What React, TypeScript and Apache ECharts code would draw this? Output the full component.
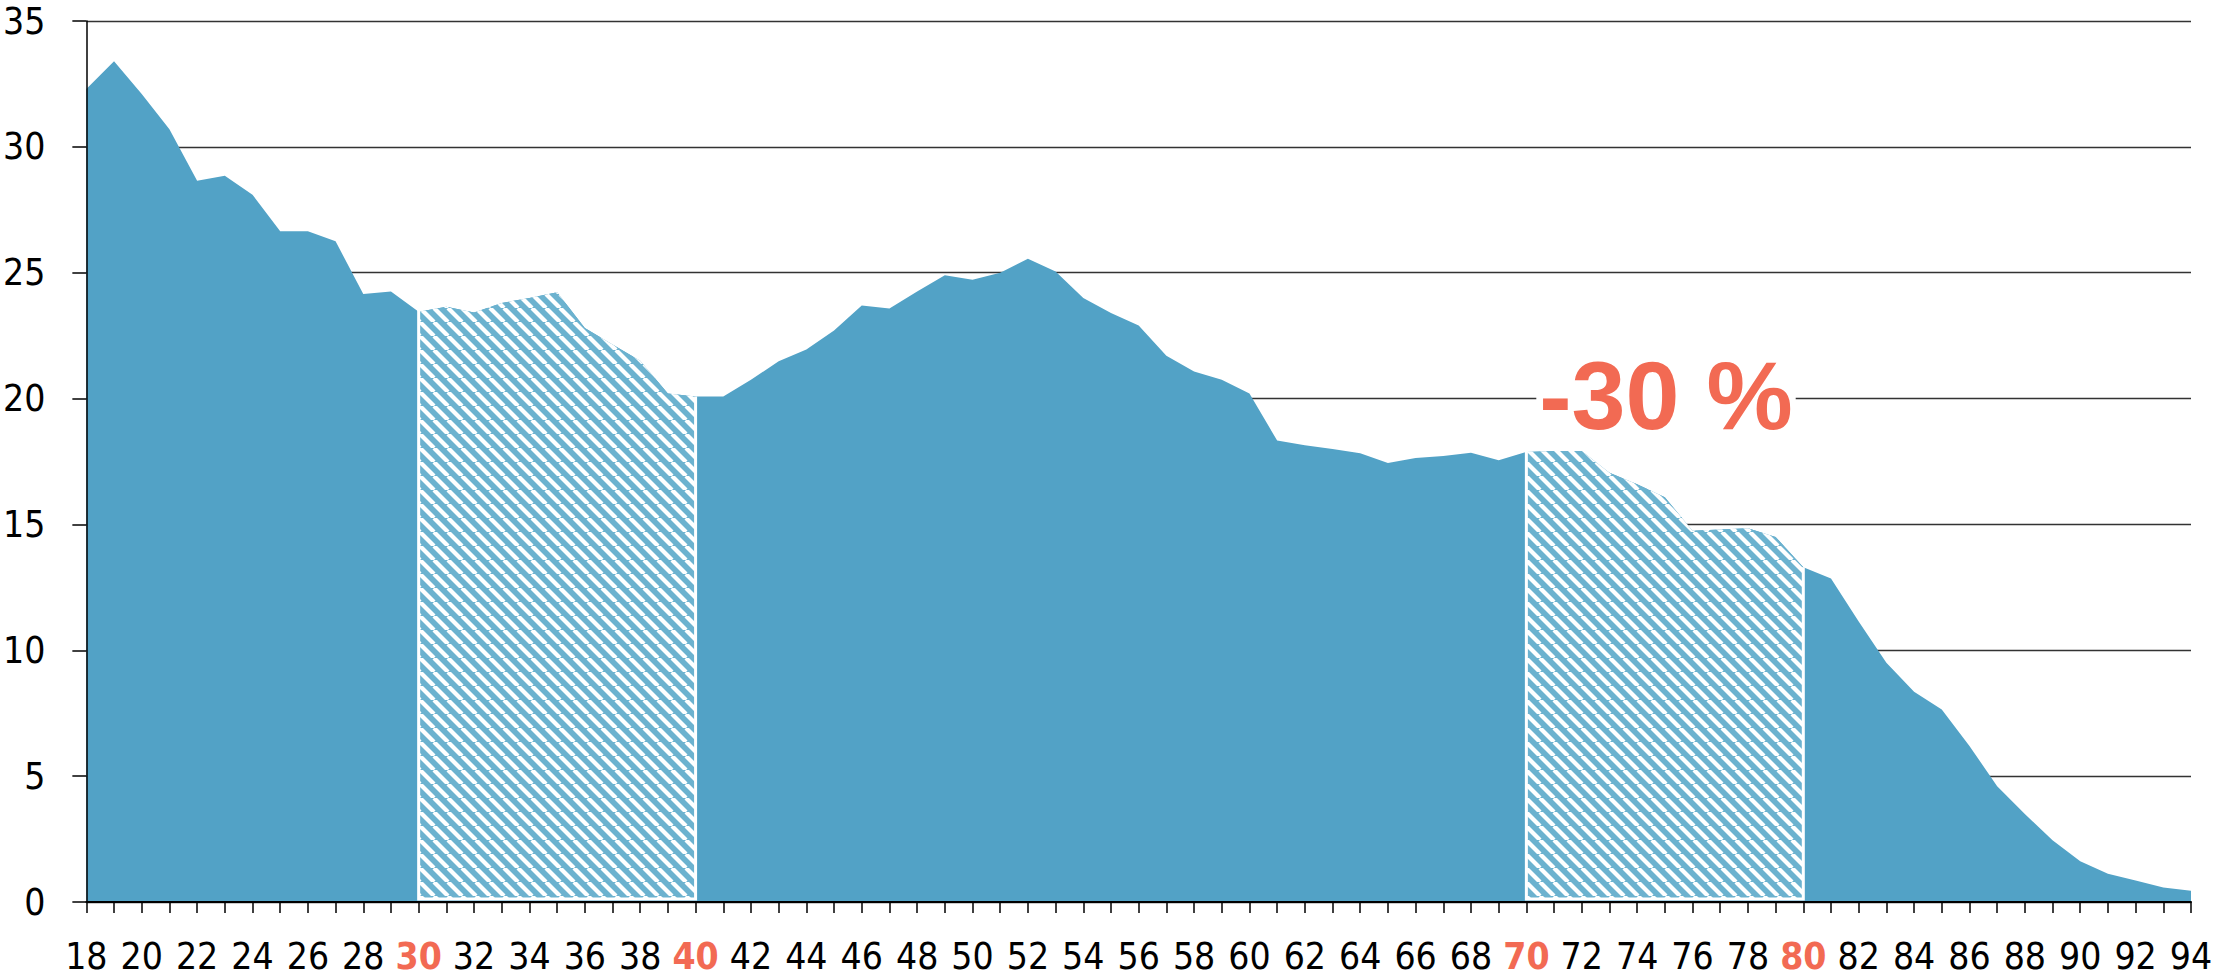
import React, { useEffect, useRef } from 'react';
import * as echarts from 'echarts';

// ---- data ----
const ages = [
  18, 19, 20, 21, 22, 23, 24, 25, 26, 27, 28, 29, 30, 31, 32, 33, 34, 35, 36, 37,
  38, 39, 40, 41, 42, 43, 44, 45, 46, 47, 48, 49, 50, 51, 52, 53, 54, 55, 56, 57,
  58, 59, 60, 61, 62, 63, 64, 65, 66, 67, 68, 69, 70, 71, 72, 73, 74, 75, 76, 77,
  78, 79, 80, 81, 82, 83, 84, 85, 86, 87, 88, 89, 90, 91, 92, 93, 94,
];
const shares = [
  32.3, 33.4, 32.1, 30.7, 28.65, 28.85, 28.1, 26.65, 26.65, 26.25, 24.15, 24.25, 23.45, 23.65, 23.42, 23.8, 24.0, 24.22, 22.8, 22.15,
  21.5, 20.2, 20.08, 20.08, 20.75, 21.48, 21.95, 22.7, 23.7, 23.58, 24.25, 24.9, 24.72, 25.0, 25.55, 25.05, 24.0, 23.4, 22.9, 21.7,
  21.08, 20.75, 20.2, 18.33, 18.15, 18.0, 17.83, 17.44, 17.64, 17.72, 17.85, 17.55, 17.88, 17.92, 17.92, 17.05, 16.6, 16.08, 14.75, 14.8,
  14.85, 14.5, 13.3, 12.85, 11.14, 9.5, 8.35, 7.65, 6.2, 4.6, 3.5, 2.45, 1.62, 1.12, 0.85, 0.58, 0.45,
];
const hatchRanges = [
  [30, 40],
  [70, 80],
];
const highlightAges = [30, 40, 70, 80];
const annotationText = '-30 %';

const AREA_COLOR = '#52A2C6';
const STRIPE_COLOR = '#6CB2CF';
const ACCENT = '#F26A53';
const FONT = '"Liberation Sans Narrow", "DejaVu Sans Condensed", "Roboto", sans-serif';

function makeHatchCanvas() {
  const size = 14;
  const c = document.createElement('canvas');
  c.width = size;
  c.height = size;
  const ctx = c.getContext('2d')!;
  ctx.fillStyle = STRIPE_COLOR;
  ctx.fillRect(0, 0, size, size);
  ctx.strokeStyle = '#ffffff';
  ctx.lineWidth = 4.2;
  for (const k of [-size, 0, size]) {
    ctx.beginPath();
    ctx.moveTo(k, 0);
    ctx.lineTo(k + size, size);
    ctx.stroke();
  }
  return c;
}

export default function App() {
  const ref = useRef<HTMLDivElement>(null);

  useEffect(() => {
    if (!ref.current) return;
    const chart = echarts.init(ref.current, null, { renderer: 'svg' });
    const hatchCanvas = makeHatchCanvas();
    const pattern: any = { image: hatchCanvas, repeat: 'repeat', imageWidth: 14, imageHeight: 14 };

    const seriesData = ages.map((a, i) => [a, shares[i]]);

    const option: any = {
      animation: false,
      backgroundColor: '#ffffff',
      grid: { left: 86, right: 25, top: 21, bottom: 78, containLabel: false },
      xAxis: {
        type: 'value',
        min: 18,
        max: 94,
        interval: 2,
        z: 10,
        axisLine: { show: true, onZero: false, lineStyle: { color: '#000', width: 2 } },
        axisTick: { show: true, length: 11, lineStyle: { color: '#000', width: 1.5 } },
        minorTick: { show: true, splitNumber: 2, length: 11, lineStyle: { color: '#000', width: 1.5 } },
        splitLine: { show: false },
        axisLabel: {
          margin: 36,
          fontSize: 37,
          fontFamily: FONT,
          color: '#000',
          formatter: (v: number) => (highlightAges.includes(v) ? `{h|${v}}` : `${v}`),
          rich: {
            h: { color: ACCENT, fontWeight: 'bold', fontSize: 37, fontFamily: FONT },
          },
        },
      },
      yAxis: [
        {
          type: 'value',
          min: 0,
          max: 35,
          interval: 5,
          axisLine: { show: false },
          axisTick: { show: false },
          axisLabel: { show: false },
          splitLine: { show: true, lineStyle: { color: '#333', width: 1.3 } },
        },
        {
          type: 'value',
          min: 0,
          max: 35,
          interval: 5,
          position: 'left',
          z: 10,
          axisLine: { show: true, lineStyle: { color: '#000', width: 1.5 } },
          axisTick: { show: true, length: 14, lineStyle: { color: '#000', width: 1.5 } },
          axisLabel: { margin: 41, fontSize: 37, fontFamily: FONT, color: '#000' },
          splitLine: { show: false },
        },
      ],
      series: [
        {
          type: 'line',
          data: seriesData,
          showSymbol: false,
          symbol: 'none',
          lineStyle: { width: 0 },
          areaStyle: { color: AREA_COLOR, opacity: 1 },
          z: 2,
        },
        {
          type: 'custom',
          data: hatchRanges,
          encode: { x: [0, 1] },
          z: 3,
          renderItem: (params: any, api: any) => {
            const s = api.value(0);
            const e = api.value(1);
            const pts: number[][] = [];
            for (let i = 0; i < ages.length; i++) {
              if (ages[i] >= s && ages[i] <= e) pts.push(api.coord([ages[i], shares[i]]));
            }
            const b0 = api.coord([s, 0]);
            const b1 = api.coord([e, 0]);
            const base = b0[1] - 3;
            const top0 = pts[0];
            const top1 = pts[pts.length - 1];
            const poly = [...pts, [b1[0], base], [b0[0], base]];
            return {
              type: 'group',
              children: [
                { type: 'polygon', shape: { points: poly }, style: { fill: pattern } },
                {
                  type: 'polyline',
                  shape: {
                    points: [
                      [top0[0], top0[1] - 2],
                      [b0[0], base],
                      [b1[0], base],
                      [top1[0], top1[1]],
                    ],
                  },
                  style: { stroke: '#ffffff', lineWidth: 3, fill: null },
                },
              ],
            };
          },
        },
      ],
      graphic: [
        {
          type: 'text',
          x: 1666,
          y: 395,
          z: 100,
          style: {
            text: annotationText,
            fill: ACCENT,
            font: 'bold 97px "Liberation Sans", Arial, sans-serif',
            align: 'center',
            verticalAlign: 'middle',
            backgroundColor: '#ffffff',
            padding: [0, 3],
          },
        },
      ],
    };

    chart.setOption(option);
    return () => chart.dispose();
  }, []);

  return (
    <div
      ref={ref}
      style={{ position: 'absolute', left: 0, top: 0, width: 2216, height: 980, background: '#fff' }}
    />
  );
}
